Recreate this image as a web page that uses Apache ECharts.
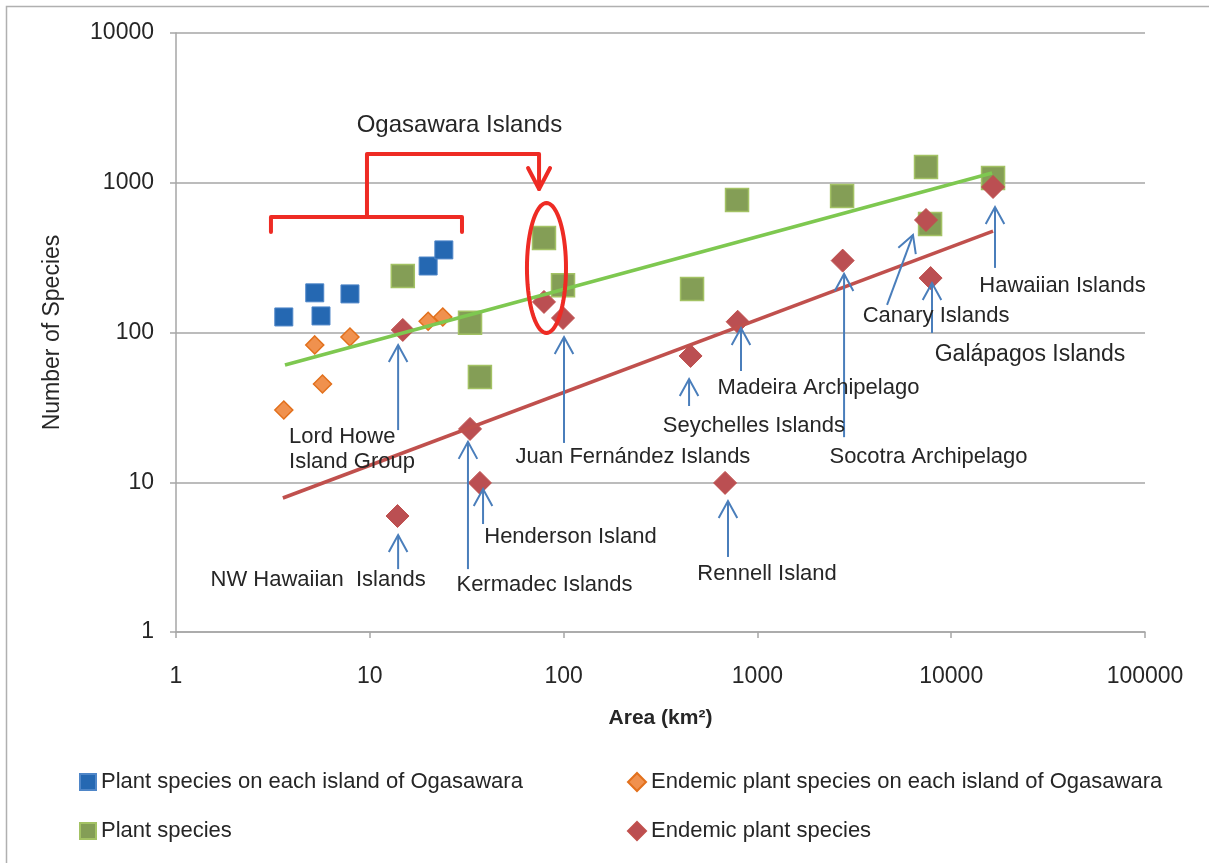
<!DOCTYPE html>
<html>
<head>
<meta charset="utf-8">
<script src="https://cdn.jsdelivr.net/npm/echarts@6/dist/echarts.min.js"></script>
<style>
html,body{margin:0;padding:0;background:#fff;}
#chart{width:1209px;height:863px;}
</style>
</head>
<body>
<div id="chart"></div>
<script>
// ---- Data ----
const seriesNames = [
  'Plant species on each island of Ogasawara',
  'Endemic plant species on each island of Ogasawara',
  'Plant species',
  'Endemic plant species'
];
// Plant species on each island of Ogasawara
const ogaPlantArea = [3.6, 5.2, 5.6, 7.9, 20, 24.1];
const ogaPlantCount = [127, 184, 129, 181, 278, 356];
// Endemic plant species on each island of Ogasawara
const ogaEndemicArea = [3.6, 5.7, 5.2, 7.9, 20, 23.8];
const ogaEndemicCount = [30.4, 45.3, 82.6, 93.3, 119, 127];
// Plant species (oceanic islands)
const plantArea = [14.8, 32.9, 37, 79.2, 99.3, 460, 785, 2735, 7413, 7780, 16440];
const plantCount = [238, 116, 50.4, 428, 207, 195, 767, 816, 1274, 531, 1076];
// Endemic plant species (oceanic islands)
const endemicArea = [13.9, 14.8, 32.9, 37, 79.2, 99.3, 452, 681, 791, 2754, 7413, 7830, 16440];
const endemicCount = [5.95, 104, 22.7, 9.9, 160, 125, 69.7, 9.9, 118, 302, 564, 231, 937];
// Power trend lines (end points)
const plantTrendArea = [3.65, 16250];
const plantTrendCount = [60.7, 1162];
const endemicTrendArea = [3.56, 16440];
const endemicTrendCount = [7.85, 476];

// Axis tick labels
const xTickValues = [1, 10, 100, 1000, 10000, 100000];
const xTickLabels = ['1', '10', '100', '1000', '10000', '100000'];
const yTickValues = [1, 10, 100, 1000, 10000];
const yTickLabels = ['1', '10', '100', '1000', '10000'];

// Island annotation labels (data coordinates)
const labelTexts = ['Lord Howe\nIsland Group', 'NW Hawaiian  Islands', 'Kermadec Islands', 'Henderson Island',
  'Juan Fernández Islands', 'Seychelles Islands', 'Madeira Archipelago', 'Rennell Island',
  'Socotra Archipelago', 'Canary Islands', 'Galápagos Islands', 'Hawaiian Islands', 'Ogasawara Islands'];
const labelArea = [3.83, 5.41, 79.7, 108.5, 228, 960, 2066, 1121, 7638, 8351, 25500, 37530, 29.0];
const labelCount = [16.5, 2.22, 2.06, 4.31, 14.7, 23.7, 42.6, 2.44, 14.7, 128.8, 70.8, 204, 2430];
const labelAlign = ['left', 'center', 'center', 'center', 'center', 'center', 'center', 'center', 'center', 'center', 'center', 'center', 'center'];
const labelSize = [22, 22, 22, 22, 22, 22, 22, 22, 22, 22, 23, 22, 24];

// Blue arrows: tip (area, count) and tail (area, count)
const arrowTipArea = [14.0, 14.0, 32.1, 38.4, 100.5, 444, 823, 705, 2800, 6350, 7960, 16830];
const arrowTipCount = [82.5, 4.44, 18.6, 9.0, 93.3, 48.9, 107, 7.5, 246, 448, 214, 689];
const arrowTailArea = [14.0, 14.0, 32.1, 38.4, 100.5, 444, 823, 705, 2800, 4667, 7960, 16830];
const arrowTailCount = [22.3, 2.63, 2.63, 5.26, 18.3, 32.3, 55.3, 3.17, 20.0, 153, 99.3, 270];

// Red bracket / arrow / ellipse (data coordinates)
const bracketArea = [3.09, 3.09, 29.9, 29.9];
const bracketCount = [469, 590, 590, 469];
const pointerArea = [9.67, 9.67, 74.7, 74.7];
const pointerCount = [590, 1556, 1556, 908];
const ellipseArea = [64.7, 102.9];
const ellipseCount = [732, 99.3];

// ---- Chart ----
const FONT = "'Liberation Sans', Arial, Helvetica, sans-serif";
const TEXT = '#262626';
const chart = echarts.init(document.getElementById('chart'));

function pairs(xs, ys) { return xs.map((x, i) => [x, ys[i]]); }

function arrowRender(params, api) {
  const i = params.dataIndex;
  const tip = api.coord([arrowTipArea[i], arrowTipCount[i]]);
  const tail = api.coord([arrowTailArea[i], arrowTailCount[i]]);
  const dx = tip[0] - tail[0], dy = tip[1] - tail[1];
  const len = Math.hypot(dx, dy) || 1;
  const ux = dx / len, uy = dy / len, nx = -uy, ny = ux;
  const b = 17, w = 9.3;
  const p1 = [tip[0] - ux * b + nx * w, tip[1] - uy * b + ny * w];
  const p2 = [tip[0] - ux * b - nx * w, tip[1] - uy * b - ny * w];
  const st = { stroke: '#4a7ebb', lineWidth: 2, fill: null };
  return { type: 'group', children: [
    { type: 'line', shape: { x1: tail[0], y1: tail[1], x2: tip[0], y2: tip[1] }, style: st },
    { type: 'polyline', shape: { points: [p1, tip, p2] }, style: st }
  ]};
}

function labelRender(params, api) {
  const i = params.dataIndex;
  const p = api.coord([labelArea[i], labelCount[i]]);
  return { type: 'text', style: {
    text: labelTexts[i], x: p[0], y: p[1], align: labelAlign[i], verticalAlign: 'middle',
    font: labelSize[i] + 'px ' + FONT, fill: TEXT, lineHeight: 25
  }};
}

function redRender(params, api) {
  const st = { stroke: '#ee2b24', lineWidth: 4, fill: null, lineJoin: 'round', lineCap: 'round' };
  const br = bracketArea.map((a, i) => api.coord([a, bracketCount[i]]));
  const pt = pointerArea.map((a, i) => api.coord([a, pointerCount[i]]));
  const tip = pt[pt.length - 1];
  const head = [[tip[0] - 11, tip[1] - 21], [tip[0], tip[1]], [tip[0] + 11, tip[1] - 21]];
  const e1 = api.coord([ellipseArea[0], ellipseCount[0]]);
  const e2 = api.coord([ellipseArea[1], ellipseCount[1]]);
  const cx = (e1[0] + e2[0]) / 2, cy = (e1[1] + e2[1]) / 2;
  const rx = Math.abs(e2[0] - e1[0]) / 2, ry = Math.abs(e2[1] - e1[1]) / 2;
  const ell = [];
  for (let k = 0; k < 72; k++) {
    const t = k / 72 * Math.PI * 2;
    ell.push([cx + rx * Math.cos(t), cy + ry * Math.sin(t)]);
  }
  return { type: 'group', children: [
    { type: 'polyline', shape: { points: br }, style: st },
    { type: 'polyline', shape: { points: pt }, style: st },
    { type: 'polyline', shape: { points: head }, style: st },
    { type: 'polygon', shape: { points: ell }, style: st }
  ]};
}

const option = {
  animation: false,
  backgroundColor: '#ffffff',
  textStyle: { fontFamily: FONT },
  graphic: [{
    type: 'rect', shape: { x: 6.5, y: 6.5, width: 1230, height: 900 },
    style: { fill: null, stroke: '#b0b0b0', lineWidth: 1.5 }, silent: true
  }],
  grid: { left: 176, right: 64, top: 33, bottom: 231, containLabel: false },
  legend: [
    {
      data: [
        { name: seriesNames[0], icon: 'rect' },
        { name: seriesNames[2], icon: 'rect' }
      ],
      orient: 'vertical', left: 79, top: 771, itemGap: 27, padding: 0,
      itemWidth: 16, itemHeight: 16, itemTextGap: 5,
      textStyle: { fontSize: 22, color: TEXT, fontFamily: FONT }
    },
    {
      data: [
        { name: seriesNames[1], icon: 'diamond' },
        { name: seriesNames[3], icon: 'diamond' }
      ],
      orient: 'vertical', left: 627, top: 771, itemGap: 27, padding: 0,
      itemWidth: 18, itemHeight: 18, itemTextGap: 5,
      textStyle: { fontSize: 22, color: TEXT, fontFamily: FONT }
    }
  ],
  xAxis: {
    type: 'log', logBase: 10, min: 1, max: 100000,
    name: 'Area (km²)', nameLocation: 'middle', nameGap: 76,
    nameTextStyle: { fontSize: 21, fontWeight: 'bold', color: TEXT, fontFamily: FONT },
    axisLine: { lineStyle: { color: '#a6a6a6', width: 1.5 } },
    axisTick: { show: true, length: 6, lineStyle: { color: '#a6a6a6', width: 1.5 } },
    splitLine: { show: false },
    minorTick: { show: false },
    axisLabel: {
      fontSize: 23, color: TEXT, margin: 33, fontFamily: FONT,
      formatter: v => { const i = xTickValues.findIndex(t => Math.abs(t - v) / t < 1e-6); return i >= 0 ? xTickLabels[i] : ''; }
    }
  },
  yAxis: {
    type: 'log', logBase: 10, min: 1, max: 10000,
    name: 'Number of Species', nameLocation: 'middle', nameGap: 112, nameRotate: 90,
    nameTextStyle: { fontSize: 23, color: TEXT, fontFamily: FONT },
    axisLine: { show: true, lineStyle: { color: '#a6a6a6', width: 1.5 } },
    axisTick: { show: true, length: 6, lineStyle: { color: '#a6a6a6', width: 1.5 } },
    splitLine: { show: true, lineStyle: { color: '#a6a6a6', width: 1.5 } },
    axisLabel: {
      fontSize: 23, color: TEXT, margin: 22, fontFamily: FONT,
      formatter: v => { const i = yTickValues.findIndex(t => Math.abs(t - v) / t < 1e-6); return i >= 0 ? yTickLabels[i] : ''; }
    }
  },
  series: [
    {
      name: seriesNames[0], type: 'scatter', symbol: 'rect', symbolSize: 18, z: 3,
      itemStyle: { color: '#2568b2', borderColor: '#4f86c8', borderWidth: 1, opacity: 1 },
      data: pairs(ogaPlantArea, ogaPlantCount)
    },
    {
      name: seriesNames[1], type: 'scatter', symbol: 'diamond', symbolSize: 18, z: 3,
      itemStyle: { color: '#f0914e', borderColor: '#e2701c', borderWidth: 1.5, opacity: 1 },
      data: pairs(ogaEndemicArea, ogaEndemicCount)
    },
    {
      name: seriesNames[2], type: 'scatter', symbol: 'rect', symbolSize: 23, z: 3,
      itemStyle: { color: '#849e56', borderColor: '#a3c264', borderWidth: 1.5, opacity: 1 },
      data: pairs(plantArea, plantCount)
    },
    {
      name: seriesNames[3], type: 'scatter', symbol: 'diamond', symbolSize: 23, z: 3,
      itemStyle: { color: '#bb4f52', borderColor: '#c0504d', borderWidth: 1, opacity: 1 },
      data: pairs(endemicArea, endemicCount)
    },
    {
      name: 'plantTrend', type: 'line', symbol: 'none', z: 4, silent: true,
      lineStyle: { color: '#7ec850', width: 3.5 },
      data: pairs(plantTrendArea, plantTrendCount)
    },
    {
      name: 'endemicTrend', type: 'line', symbol: 'none', z: 4, silent: true,
      lineStyle: { color: '#c0504d', width: 3.5 },
      data: pairs(endemicTrendArea, endemicTrendCount)
    },
    {
      name: 'arrows', type: 'custom', z: 5, silent: true, clip: false,
      renderItem: arrowRender,
      encode: { x: [0, 2], y: [1, 3] },
      data: arrowTipArea.map((a, i) => [a, arrowTipCount[i], arrowTailArea[i], arrowTailCount[i]])
    },
    {
      name: 'labels', type: 'custom', z: 6, silent: true, clip: false,
      renderItem: labelRender,
      encode: { x: 0, y: 1 },
      data: labelArea.map((a, i) => [a, labelCount[i]])
    },
    {
      name: 'ogasawaraMark', type: 'custom', z: 6, silent: true, clip: false,
      renderItem: redRender,
      encode: { x: 0, y: 1 },
      data: [[bracketArea[0], bracketCount[0]]]
    }
  ]
};
chart.setOption(option);
</script>
</body>
</html>
